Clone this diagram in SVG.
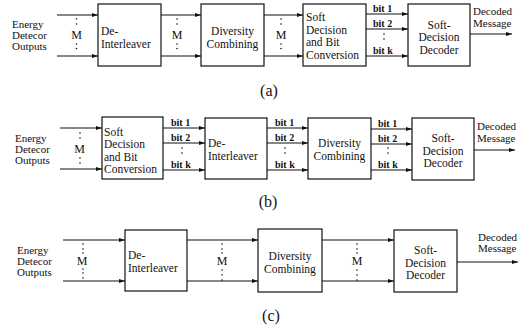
<svg xmlns="http://www.w3.org/2000/svg" width="524" height="325" viewBox="0 0 524 325" font-family="'Liberation Serif', 'Times New Roman', 'DejaVu Serif', serif">
<style>
text{font-family:'Liberation Serif','Times New Roman','DejaVu Serif',serif;font-size:11.5px;fill:#111}
.c{text-anchor:middle}
.s{font-size:11px}
.b{font-size:10px;font-weight:bold}
.m{font-size:12px}
.cap{font-size:16px;text-anchor:middle}
rect.box{fill:#fff;stroke:#111;stroke-width:1.2}
line.w{stroke:#111;stroke-width:1}
circle.d{fill:#111}
</style>
<defs>
<marker id="ah" viewBox="0 0 6 4" refX="6" refY="2" markerWidth="6" markerHeight="4" markerUnits="userSpaceOnUse" orient="auto">
<path d="M0,0 L6,2 L0,4 z" fill="#111"/>
</marker>
</defs>

<!-- Row (a) -->
<g id="a-input">
<text class="s" x="12" y="27.5">Energy</text>
<text class="s" x="12" y="38.5">Detecor</text>
<text class="s" x="12" y="49.5">Outputs</text>
</g>
<g id="a-deint"><rect class="box" x="98" y="4" width="63" height="62"/>
<text x="101" y="35">De-</text><text x="101" y="47.5">Interleaver</text></g>
<g id="a-div"><rect class="box" x="201" y="4" width="63" height="62"/>
<text class="c" x="232.5" y="35">Diversity</text><text class="c" x="232.5" y="47.5">Combining</text></g>
<g id="a-sdbc"><rect class="box" x="303" y="4" width="63" height="62"/>
<text x="306" y="21">Soft</text><text x="306" y="33.5">Decision</text><text x="306" y="46">and Bit</text><text x="306" y="58.5">Conversion</text></g>
<g id="a-dec"><rect class="box" x="408" y="4" width="62" height="62"/>
<text class="c" x="439" y="28.5">Soft-</text><text class="c" x="439" y="41">Decision</text><text class="c" x="439" y="53.5">Decoder</text></g>
<g id="a-out"><text class="s" x="473" y="15">Decoded</text><text class="s" x="473" y="26.5">Message</text></g>
<text class="cap" x="269" y="96">(a)</text>

<!-- Row (b) -->
<g id="b-input">
<text class="s" x="15" y="141.5">Energy</text>
<text class="s" x="15" y="152.5">Detecor</text>
<text class="s" x="15" y="163.5">Outputs</text>
</g>
<g id="b-sdbc"><rect class="box" x="102" y="117" width="61" height="62"/>
<text x="104" y="135.5">Soft</text><text x="104" y="148">Decision</text><text x="104" y="160.5">and Bit</text><text x="104" y="173">Conversion</text></g>
<g id="b-deint"><rect class="box" x="205" y="118" width="62" height="61"/>
<text x="208" y="147">De-</text><text x="208" y="159.5">Interleaver</text></g>
<g id="b-div"><rect class="box" x="308" y="118" width="63" height="61"/>
<text class="c" x="339.5" y="147">Diversity</text><text class="c" x="339.5" y="159.5">Combining</text></g>
<g id="b-dec"><rect class="box" x="412" y="118" width="62" height="62"/>
<text class="c" x="443" y="142">Soft-</text><text class="c" x="443" y="154.5">Decision</text><text class="c" x="443" y="167">Decoder</text></g>
<g id="b-out"><text class="s" x="477" y="130">Decoded</text><text class="s" x="477" y="141.5">Message</text></g>
<text class="cap" x="268" y="207">(b)</text>

<!-- Row (c) -->
<g id="c-input">
<text class="s" x="17" y="253.5">Energy</text>
<text class="s" x="17" y="264.5">Detecor</text>
<text class="s" x="17" y="275.5">Outputs</text>
</g>
<g id="c-deint"><rect class="box" x="125" y="230" width="62" height="61"/>
<text x="128" y="259">De-</text><text x="128" y="271.5">Interleaver</text></g>
<g id="c-div"><rect class="box" x="258" y="229" width="64" height="63"/>
<text class="c" x="290" y="260">Diversity</text><text class="c" x="290" y="272.5">Combining</text></g>
<g id="c-dec"><rect class="box" x="394" y="230" width="63" height="62"/>
<text class="c" x="425.5" y="254">Soft-</text><text class="c" x="425.5" y="266.5">Decision</text><text class="c" x="425.5" y="279">Decoder</text></g>
<g id="c-out"><text class="s" x="478" y="240.5">Decoded</text><text class="s" x="478" y="251.5">Message</text></g>
<text class="cap" x="271" y="321">(c)</text>

<g id="connectors">
<line class="w" x1="57" y1="15" x2="98" y2="15" marker-end="url(#ah)"/>
<line class="w" x1="57" y1="56" x2="98" y2="56" marker-end="url(#ah)"/>
<line class="w" x1="161" y1="15" x2="201" y2="15" marker-end="url(#ah)"/>
<line class="w" x1="161" y1="56" x2="201" y2="56" marker-end="url(#ah)"/>
<line class="w" x1="264" y1="15" x2="303" y2="15" marker-end="url(#ah)"/>
<line class="w" x1="264" y1="56" x2="303" y2="56" marker-end="url(#ah)"/>
<line class="w" x1="366" y1="14" x2="408" y2="14" marker-end="url(#ah)"/>
<line class="w" x1="366" y1="29" x2="408" y2="29" marker-end="url(#ah)"/>
<line class="w" x1="366" y1="56" x2="408" y2="56" marker-end="url(#ah)"/>
<line class="w" x1="470" y1="34" x2="512" y2="34" marker-end="url(#ah)"/>
<line class="w" x1="60" y1="128" x2="102" y2="128" marker-end="url(#ah)"/>
<line class="w" x1="60" y1="169" x2="102" y2="169" marker-end="url(#ah)"/>
<line class="w" x1="163" y1="128" x2="205" y2="128" marker-end="url(#ah)"/>
<line class="w" x1="163" y1="143" x2="205" y2="143" marker-end="url(#ah)"/>
<line class="w" x1="163" y1="170" x2="205" y2="170" marker-end="url(#ah)"/>
<line class="w" x1="267" y1="128" x2="308" y2="128" marker-end="url(#ah)"/>
<line class="w" x1="267" y1="143" x2="308" y2="143" marker-end="url(#ah)"/>
<line class="w" x1="267" y1="170" x2="308" y2="170" marker-end="url(#ah)"/>
<line class="w" x1="371" y1="129" x2="412" y2="129" marker-end="url(#ah)"/>
<line class="w" x1="371" y1="144" x2="412" y2="144" marker-end="url(#ah)"/>
<line class="w" x1="371" y1="170" x2="412" y2="170" marker-end="url(#ah)"/>
<line class="w" x1="474" y1="150" x2="515" y2="150" marker-end="url(#ah)"/>
<line class="w" x1="63" y1="240" x2="125" y2="240" marker-end="url(#ah)"/>
<line class="w" x1="63" y1="281" x2="125" y2="281" marker-end="url(#ah)"/>
<line class="w" x1="187" y1="240" x2="258" y2="240" marker-end="url(#ah)"/>
<line class="w" x1="187" y1="281" x2="258" y2="281" marker-end="url(#ah)"/>
<line class="w" x1="322" y1="240" x2="394" y2="240" marker-end="url(#ah)"/>
<line class="w" x1="322" y1="281" x2="394" y2="281" marker-end="url(#ah)"/>
<line class="w" x1="457" y1="262" x2="518" y2="262" marker-end="url(#ah)"/>
</g>

<g id="labels">
<text class="c m" x="76.5" y="38.5">M</text>
<text class="c m" x="177" y="38.5">M</text>
<text class="c m" x="281" y="38.5">M</text>
<text class="c m" x="79.5" y="153">M</text>
<text class="c m" x="82" y="265">M</text>
<text class="c m" x="222" y="265">M</text>
<text class="c m" x="357" y="265">M</text>
<text class="b" x="373" y="12">bit 1</text>
<text class="b" x="373" y="27">bit 2</text>
<text class="b" x="373" y="54">bit k</text>
<text class="b" x="171" y="126">bit 1</text>
<text class="b" x="171" y="141">bit 2</text>
<text class="b" x="171" y="168">bit k</text>
<text class="b" x="275" y="126">bit 1</text>
<text class="b" x="275" y="141">bit 2</text>
<text class="b" x="275" y="168">bit k</text>
<text class="b" x="378" y="127">bit 1</text>
<text class="b" x="378" y="142">bit 2</text>
<text class="b" x="378" y="168">bit k</text>
</g>

<g id="dots">
<circle class="d" cx="76.5" cy="19" r="0.8"/><circle class="d" cx="76.5" cy="24" r="0.8"/>
<circle class="d" cx="76.5" cy="44" r="0.8"/><circle class="d" cx="76.5" cy="48.5" r="0.8"/>
<circle class="d" cx="177" cy="19" r="0.8"/><circle class="d" cx="177" cy="24" r="0.8"/>
<circle class="d" cx="177" cy="44" r="0.8"/><circle class="d" cx="177" cy="48.5" r="0.8"/>
<circle class="d" cx="281" cy="19" r="0.8"/><circle class="d" cx="281" cy="24" r="0.8"/>
<circle class="d" cx="281" cy="44" r="0.8"/><circle class="d" cx="281" cy="48.5" r="0.8"/>
<circle class="d" cx="384" cy="34" r="0.8"/><circle class="d" cx="384" cy="39" r="0.8"/>
<circle class="d" cx="80" cy="133" r="0.8"/><circle class="d" cx="80" cy="138" r="0.8"/>
<circle class="d" cx="80" cy="158" r="0.8"/><circle class="d" cx="80" cy="163" r="0.8"/>
<circle class="d" cx="182" cy="148" r="0.8"/><circle class="d" cx="182" cy="153" r="0.8"/>
<circle class="d" cx="285" cy="148" r="0.8"/><circle class="d" cx="285" cy="153" r="0.8"/>
<circle class="d" cx="388" cy="148" r="0.8"/><circle class="d" cx="388" cy="153" r="0.8"/>
<circle class="d" cx="83" cy="244" r="0.8"/><circle class="d" cx="83" cy="249" r="0.8"/><circle class="d" cx="83" cy="253" r="0.8"/>
<circle class="d" cx="83" cy="269" r="0.8"/><circle class="d" cx="83" cy="273" r="0.8"/><circle class="d" cx="83" cy="278" r="0.8"/>
<circle class="d" cx="222" cy="244" r="0.8"/><circle class="d" cx="222" cy="249" r="0.8"/><circle class="d" cx="222" cy="253" r="0.8"/>
<circle class="d" cx="222" cy="270" r="0.8"/><circle class="d" cx="222" cy="275" r="0.8"/><circle class="d" cx="222" cy="280" r="0.8"/>
<circle class="d" cx="357" cy="244" r="0.8"/><circle class="d" cx="357" cy="249" r="0.8"/><circle class="d" cx="357" cy="253" r="0.8"/>
<circle class="d" cx="357" cy="270" r="0.8"/><circle class="d" cx="357" cy="275" r="0.8"/><circle class="d" cx="357" cy="280" r="0.8"/>
</g>
</svg>
